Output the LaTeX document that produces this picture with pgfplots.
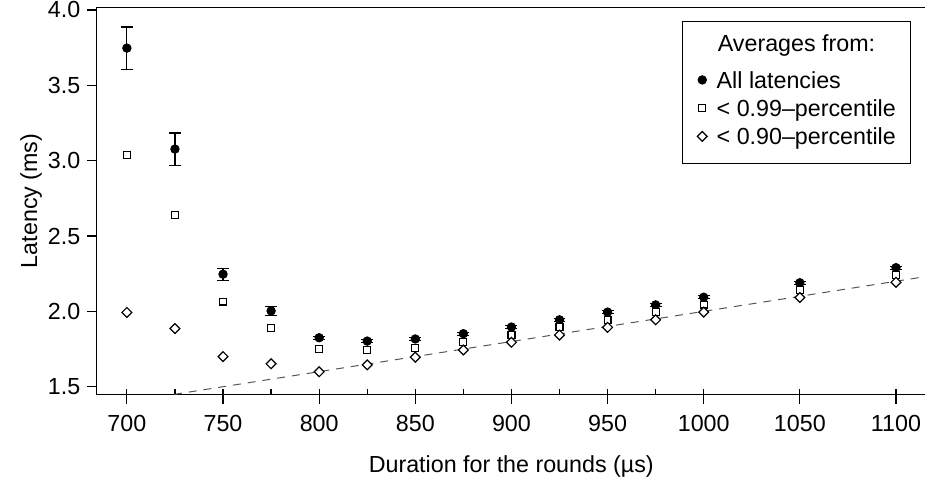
\documentclass[border=0pt]{standalone}
\usepackage{pgfplots}
\pgfplotsset{compat=1.18}
\usepackage{pgfplotstable}
\usepackage{fontspec}
\setmainfont{Liberation Sans}
\definecolor{dashgray}{HTML}{555555}
\newcommand\f{\fontsize{11.7pt}{14pt}\selectfont}
\newsavebox\tb
\pgfplotsset{mylegend/.style={legend image code/.code={\draw[##1] plot coordinates {(0pt,1.25pt)};}}}

\pgfplotstableread{
x y e
700 3.747 0.140
725 3.077 0.107
750 2.247 0.040
775 2.003 0.031
800 1.825 0.010
825 1.803 0.010
850 1.817 0.010
875 1.852 0.010
900 1.896 0.010
925 1.944 0.010
950 1.995 0.010
975 2.043 0.010
1000 2.094 0.010
1050 2.190 0.010
1100 2.290 0.010
}\allt

\pgfplotstableread{
x y
700 3.039
725 2.641
750 2.065
775 1.889
800 1.749
825 1.743
850 1.759
875 1.799
900 1.845
925 1.896
950 1.944
975 1.995
1000 2.045
1050 2.142
1100 2.241
}\pnn

\pgfplotstableread{
x y
700 1.993
725 1.886
750 1.700
775 1.652
800 1.599
825 1.645
850 1.696
875 1.744
900 1.795
925 1.843
950 1.894
975 1.944
1000 1.995
1050 2.092
1100 2.193
}\pninety

\begin{document}
\sbox\tb{\f < 0.90--percentile}
\begin{tikzpicture}
\begin{axis}[
  scale only axis,
  width=416.95pt, height=194.7pt,
  xmin=684.3, xmax=1115.5,
  ymin=1.449, ymax=4.018,
  axis line style={line width=0.75pt, black},
  every tick/.style={black, line width=0.6pt},
  tick align=outside,
  major tick length=4.7pt,
  xtick pos=left, ytick pos=left,
  xtick={700,750,...,1100},
  xticklabels={700,750,800,850,900,950,1000,1050,1100},
  ytick={1.5,2,2.5,3,3.5,4},
  yticklabels={1.5,2.0,2.5,3.0,3.5,4.0},
  /pgf/number format/assume math mode=true,
  tick label style={font=\f},
  xticklabel style={yshift=-2.1pt},
  label style={font=\f},
  xlabel={Duration for the rounds (µs)},
  ylabel={Latency (ms)},
  xlabel style={at={(axis description cs:0.5,-0.2011)}, anchor=base},
  ylabel style={at={(axis description cs:-0.07195,0.5)}, anchor=base},
  legend cell align=left,
  legend style={font=\f, at={(axis description cs:0.9825,0.96559)}, anchor=north east,
    draw=black, line width=0.5pt, fill=white, inner xsep=7.5pt, inner ysep=5.45pt,
    column sep=4.8pt, row sep=0pt,
    nodes={inner sep=0pt, text height=10.05pt, text depth=4.15pt}},
]
\coordinate (bl) at (rel axis cs:0,0);
\coordinate (tl) at (rel axis cs:0,1);
\coordinate (tr) at (rel axis cs:1,1);
\addplot[forget plot, dashgray, line width=0.5pt, dash pattern=on 4pt off 3.5pt] coordinates {(724.5,1.449) (1115.5,2.231)};
\addlegendimage{empty legend}
\addlegendentry[text depth=8.25pt]{\hspace*{-4.9pt}\makebox[\wd\tb][c]{Averages from:}}
\addplot[mylegend, only marks, mark=*, mark size=2.1pt, black, mark options={fill=black, line width=0.5pt},
  error bars/.cd, y dir=both, y explicit,
  error bar style={line width=0.6pt, black},
  error mark options={rotate=90, mark size=3pt, line width=0.6pt, black}]
  table[x=x, y=y, y error=e]{\allt};
\addlegendentry{All latencies}
\addplot[mylegend, only marks, mark=square*, mark size=1.75pt, black, mark options={fill=white, draw=black, line width=0.6pt}]
  table[x=x, y=y]{\pnn};
\addlegendentry{< 0.99--percentile}
\addplot[mylegend, only marks, mark=square*, mark size=1.75pt, black, mark options={rotate=45, fill=white, draw=black, line width=0.6pt}]
  table[x=x, y=y]{\pninety};
\addlegendentry{< 0.90--percentile}
\end{axis}
\begin{axis}[
  scale only axis,
  width=416.95pt, height=194.7pt,
  xmin=684.3, xmax=1115.5,
  ymin=1.449, ymax=4.018,
  axis line style={draw=none},
  every tick/.style={black, line width=0.6pt},
  tick align=inside,
  major tick length=2.6pt,
  xtick pos=left, ytick=\empty,
  xtick={700,725,750,775,800,825,850,875,900,925,950,975,1000,1050,1100},
  xticklabels={},
]
\end{axis}
\draw[line width=0.75pt, black] (tl) -- (tr);
\pgfresetboundingbox
\path[use as bounding box] ([xshift=-45.85pt, yshift=-45.15pt]bl) rectangle ([xshift=-0.4pt, yshift=3.65pt]tr);
\end{tikzpicture}
\end{document}
